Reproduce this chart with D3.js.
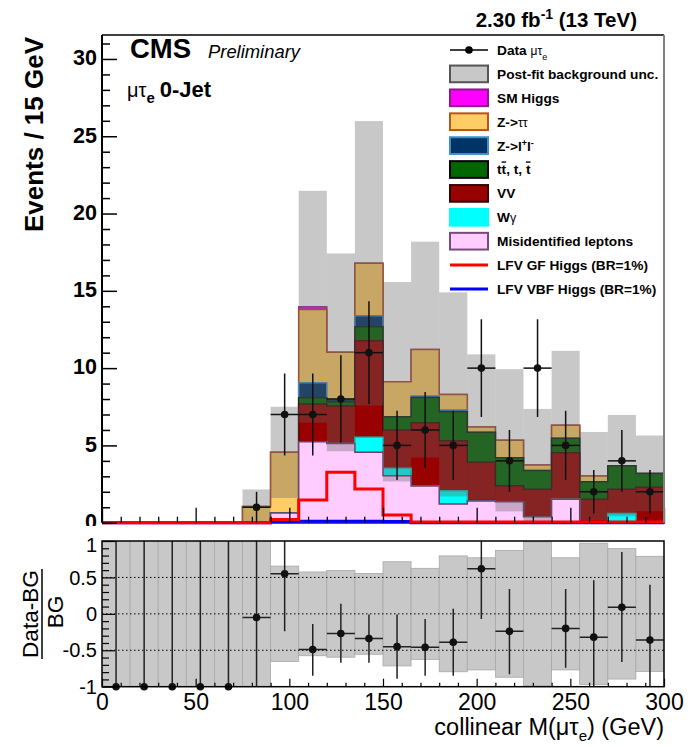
<!DOCTYPE html>
<html>
<head>
<meta charset="utf-8">
<script src="https://cdn.jsdelivr.net/npm/d3@7"></script>
<style>
  body { margin: 0; background: #fff; }
  svg { display: block; }
  text { font-family: "Liberation Sans", Arial, Helvetica, sans-serif; }
</style>
</head>
<body>
<svg id="chart" width="693" height="747"></svg>
<script>
// ---- Binning (15 GeV bins, lower edges) ----
const binLow = [0, 15, 30, 45, 60, 75, 90, 105, 120, 135, 150, 165, 180, 195, 210, 225, 240, 255, 270, 285];
const binWidth = 15;

// ---- Background expectations per bin (events) ----
const misid  = [0, 0, 0, 0, 0, 0, 0.62, 5.24, 5.13, 4.55, 3.04, 2.37, 1.21, 1.40, 1.36, 0.39, 1.51, 0, 0, 0];
const wgamma = [0, 0, 0, 0, 0, 0, 0, 0, 0, 0.97, 0.48, 0, 0.86, 0, 0, 0, 0, 0, 0.60, 0];
const vv     = [0, 0, 0, 0, 0, 0, 0, 2.44, 2.42, 6.25, 2.48, 4.10, 3.23, 2.51, 1.03, 1.77, 3.02, 1.51, 1.56, 2.29];
const ttbar  = [0, 0, 0, 0, 0, 0, 0, 0.41, 0.28, 0.91, 0.86, 1.63, 1.87, 1.94, 1.81, 1.21, 0.93, 1.14, 1.53, 0.90];
const zll    = [0, 0, 0, 0, 0, 0, 0, 0.97, 0.17, 0.71, 0, 0.10, 0.12, 0, 0, 0, 0, 0, 0, 0];
const ztt    = [0, 0, 0, 0, 0, 1.05, 3.93, 4.74, 3.02, 3.39, 2.26, 3.00, 1.01, 0.34, 1.13, 0.36, 0.84, 0.37, 0, 0];
const smh    = [0, 0, 0, 0, 0, 0, 0, 0.17, 0, 0, 0, 0, 0, 0, 0, 0, 0, 0, 0, 0];

// Post-fit background uncertainty (absolute, events)
const bkgUnc = [0, 0, 0, 0, 0, 1.10, 2.95, 7.50, 6.40, 9.20, 6.45, 6.98, 6.60, 4.70, 4.60, 3.63, 4.82, 2.85, 3.28, 2.45];

// ---- Observed data ----
const dataCounts = [0, 0, 0, 0, 0, 1, 7, 7, 8, 11, 5, 6, 5, 10, 4, 10, 5, 2, 4, 2];
const dataErr    = [0, 0, 0, 0, 0, 1.00, 2.65, 2.65, 2.83, 3.32, 2.24, 2.45, 2.24, 3.16, 2.00, 3.16, 2.24, 1.41, 2.00, 1.41];

// ---- LFV signal shapes (BR = 1%) ----
const lfvGF  = [0, 0, 0, 0, 0, 0, 0.20, 1.47, 3.26, 2.18, 0.50, 0.04, 0.04, 0.04, 0.04, 0.04, 0.04, 0.04, 0.04, 0.04];
const lfvVBF = [0, 0, 0, 0, 0, 0, 0.08, 0.10, 0.10, 0.10, 0.08, 0, 0, 0, 0, 0, 0, 0, 0, 0];

// ---- Ratio panel: (Data-BG)/BG ----
const ratioVal     = [-1, -1, -1, -1, -1, -0.05, 0.55, -0.49, -0.27, -0.34, -0.45, -0.46, -0.39, 0.62, -0.24, null, -0.20, -0.32, 0.09, -0.36];
const ratioErrUp   = [2.2, 2.2, 2.2, 2.2, 2.2, 2.0, 0.80, 0.35, 0.41, 0.33, 0.44, 0.39, 0.46, 0.69, 0.58, null, 0.54, 0.78, 0.76, 0.76];
const ratioErrDown = [0, 0, 0, 0, 0, 1.0, 0.79, 0.36, 0.40, 0.33, 0.44, 0.39, 0.46, 0.69, 0.59, null, 0.54, 0.78, 0.75, 0.76];
const ratioBand    = [2, 2, 2, 2, 2, 2, 0.655, 0.575, 0.595, 0.555, 0.715, 0.625, 0.795, 0.77, 0.87, 0.99, 0.77, 0.97, 0.895, 0.79];

// ---- Axis ticks ----
const yTicks = [0, 5, 10, 15, 20, 25, 30];
const yMinorTicks = d3.range(0, 32, 1);
const xTicks = [0, 50, 100, 150, 200, 250, 300];
const xMinorTicks = d3.range(0, 301, 10);
const ratioTicks = [-1, -0.5, 0, 0.5, 1];
const ratioTickLabels = ["-1", "-0.5", "0", "0.5", "1"];
const ratioMinorTicks = d3.range(-10, 11, 1).map(v => v / 10);

// ---- Legend labels ----
const legendLabels = ["Data", "Post-fit background unc.", "SM Higgs", "Z->", "Z->l", "VV", "W",
  "Misidentified leptons", "LFV GF Higgs (BR=1%)", "LFV VBF Higgs (BR=1%)"];

// =====================================================================
const FONT = '"Liberation Sans", Arial, Helvetica, sans-serif';
const svg = d3.select("#chart");

const x  = d3.scaleLinear().domain([0, 300]).range([102, 664]);
const y  = d3.scaleLinear().domain([0, 31.55]).range([522.7, 35]);
const yr = d3.scaleLinear().domain([-1, 1]).range([686.7, 541]);

// Stack styles, bottom to top
const layers = [
  { key: "misid",  values: misid,  fill: "#ffccff", line: "#6b3f6b" },
  { key: "wgamma", values: wgamma, fill: "#00ffff", line: "#22b8b8" },
  { key: "vv",     values: vv,     fill: "#990000", line: "#3a0808" },
  { key: "ttbar",  values: ttbar,  fill: "#006600", line: "#142414" },
  { key: "zll",    values: zll,    fill: "#003366", line: "#3d8fc6" },
  { key: "ztt",    values: ztt,    fill: "#ffcc66", line: "#a4502a" },
  { key: "smh",    values: smh,    fill: "#ff00ff", line: "#9a2a9a" }
];

const rows = binLow.map((b, i) => {
  const r = { low: b };
  layers.forEach(l => r[l.key] = l.values[i]);
  return r;
});
const stacked = d3.stack().keys(layers.map(l => l.key))(rows);
const total = rows.map((r, i) => stacked[stacked.length - 1][i][1]);

// step-line points across all bins
function stepPoints(vals) {
  const pts = binLow.map((b, i) => ({ x: b, v: vals[i] }));
  pts.push({ x: binLow[binLow.length - 1] + binWidth, v: vals[vals.length - 1] });
  return pts;
}

const main = svg.append("g");

// Cumulative histograms drawn from the top of the stack downwards
const area = d3.area().curve(d3.curveStepAfter)
  .x(d => x(d.x)).y0(y(0)).y1(d => y(d.v));
for (let k = stacked.length - 1; k >= 0; k--) {
  const cum = stacked[k].map(d => d[1]);
  main.append("path")
    .attr("d", area(stepPoints(cum)))
    .attr("fill", layers[k].fill)
    .attr("stroke", layers[k].line)
    .attr("stroke-width", 1.5)
    .attr("stroke-linejoin", "miter");
}

// Post-fit uncertainty band
main.append("g").selectAll("rect")
  .data(binLow.map((b, i) => ({ b, t: total[i], u: bkgUnc[i] })).filter(d => d.u > 0))
  .join("rect")
  .attr("x", d => x(d.b))
  .attr("width", d => x(d.b + binWidth) - x(d.b))
  .attr("y", d => y(d.t + d.u))
  .attr("height", d => y(Math.max(0, d.t - d.u)) - y(d.t + d.u))
  .attr("fill", "rgb(100,100,100)")
  .attr("fill-opacity", 0.355);

// LFV signal lines
const stepLine = d3.line().curve(d3.curveStepAfter).x(d => x(d.x)).y(d => y(d.v));
main.append("path").attr("d", stepLine(stepPoints(lfvVBF)))
  .attr("fill", "none").attr("stroke", "#0000ff").attr("stroke-width", 3);
main.append("path").attr("d", stepLine(stepPoints(lfvGF)))
  .attr("fill", "none").attr("stroke", "#ff0000").attr("stroke-width", 3);

// Data points
const dataPts = binLow.map((b, i) => ({ c: b + binWidth / 2, b, n: dataCounts[i], e: dataErr[i] }))
  .filter(d => d.n > 0);
const dg = main.append("g").attr("stroke", "#111").attr("stroke-width", 1.5);
dg.selectAll("line.v").data(dataPts).join("line").attr("class", "v")
  .attr("x1", d => x(d.c)).attr("x2", d => x(d.c))
  .attr("y1", d => y(d.n + d.e)).attr("y2", d => y(Math.max(0, d.n - d.e)));
dg.selectAll("line.h").data(dataPts).join("line").attr("class", "h")
  .attr("x1", d => x(d.b)).attr("x2", d => x(d.b + binWidth))
  .attr("y1", d => y(d.n)).attr("y2", d => y(d.n));
main.append("g").selectAll("circle").data(dataPts).join("circle")
  .attr("cx", d => x(d.c)).attr("cy", d => y(d.n)).attr("r", 3.8).attr("fill", "#111");

// Main axes: inward ticks
const yMinor = main.append("g").attr("transform", `translate(${x(0)},0)`)
  .call(d3.axisLeft(y).tickValues(yMinorTicks.filter(v => v % 5 !== 0)).tickSizeInner(-8).tickSizeOuter(0).tickFormat(""));
const yMajor = main.append("g").attr("transform", `translate(${x(0)},0)`)
  .call(d3.axisLeft(y).tickValues(yTicks).tickSizeInner(-15).tickSizeOuter(0).tickPadding(5).tickFormat(d3.format("d")));
[yMinor, yMajor].forEach(g => {
  g.select(".domain").remove();
  g.selectAll("line").attr("stroke", "#000").attr("stroke-width", 1.5);
});
yMajor.selectAll("text").attr("font-family", FONT).attr("font-size", 21.5).attr("font-weight", "bold")
  .attr("fill", "#000").attr("dy", "0.27em");

const xMinorMain = main.append("g").attr("transform", `translate(0,${y(0)})`)
  .call(d3.axisBottom(x).tickValues(xMinorTicks.filter(v => v % 50 !== 0)).tickSizeInner(-6).tickSizeOuter(0).tickFormat(""));
const xMajorMain = main.append("g").attr("transform", `translate(0,${y(0)})`)
  .call(d3.axisBottom(x).tickValues(xTicks).tickSizeInner(-15).tickSizeOuter(0).tickFormat(""));
[xMinorMain, xMajorMain].forEach(g => {
  g.select(".domain").remove();
  g.selectAll("line").attr("stroke", "#000").attr("stroke-width", 1.3);
});

// Frame of the upper pad
main.append("line").attr("x1", x(0)).attr("x2", x(0)).attr("y1", y.range()[1]).attr("y2", y(0))
  .attr("stroke", "#000").attr("stroke-width", 2);
main.append("line").attr("x1", x(0)).attr("x2", x(300)).attr("y1", y.range()[1]).attr("y2", y.range()[1])
  .attr("stroke", "#000").attr("stroke-width", 1.5);
main.append("line").attr("x1", x(300)).attr("x2", x(300)).attr("y1", y.range()[1]).attr("y2", y(0))
  .attr("stroke", "#808080").attr("stroke-width", 2);

// Axis title
svg.append("text")
  .attr("transform", "translate(43,37) rotate(-90)")
  .attr("text-anchor", "end")
  .attr("font-size", 26).attr("font-weight", "bold")
  .text("Events / 15 GeV");

// CMS labels
svg.append("text").attr("x", 130).attr("y", 58).attr("font-size", 27.5).attr("font-weight", "bold").text("CMS");
svg.append("text").attr("x", 208).attr("y", 58).attr("font-size", 18.4).attr("font-style", "italic").text("Preliminary");
const chan = svg.append("text").attr("x", 127).attr("y", 97);
chan.append("tspan").attr("font-size", 20).text("μτ");
chan.append("tspan").attr("font-size", 15).attr("font-weight", "bold").attr("dy", 6).text("e");
chan.append("tspan").attr("font-size", 22).attr("font-weight", "bold").attr("dy", -6).attr("dx", 5).text("0-Jet");

// Luminosity label
const lumi = svg.append("text").attr("x", 637).attr("y", 27).attr("text-anchor", "end")
  .attr("font-size", 20.5).attr("font-weight", "bold");
lumi.append("tspan").text("2.30 fb");
lumi.append("tspan").attr("font-size", 14).attr("dy", -8).text("-1");
lumi.append("tspan").attr("dy", 8).text(" (13 TeV)");

// ---- Legend ----
const leg = svg.append("g");
const legY0 = 50, legStep = 23.9, boxX = 450, boxW = 38, boxH = 16.7, textX = 497;
const legendBoxes = [
  null,
  { fill: "#c8c8c8", stroke: "#555555" },
  { fill: "#ff00ff", stroke: "#8b1a8b" },
  { fill: "#ffcc66", stroke: "#b4561e" },
  { fill: "#003366", stroke: "#3d8fc6" },
  { fill: "#006600", stroke: "#000000" },
  { fill: "#990000", stroke: "#3a0000" },
  { fill: "#00ffff", stroke: "#00ffff" },
  { fill: "#ffccff", stroke: "#7a4a7a" },
  { line: "#ff0000" },
  { line: "#0000ff" }
];
legendBoxes.forEach((s, i) => {
  const cy = legY0 + i * legStep;
  if (i === 0) {
    leg.append("line").attr("x1", boxX).attr("x2", boxX + boxW).attr("y1", cy).attr("y2", cy)
      .attr("stroke", "#000").attr("stroke-width", 1.5);
    leg.append("circle").attr("cx", boxX + boxW / 2).attr("cy", cy).attr("r", 3.8).attr("fill", "#000");
  } else if (s.line) {
    leg.append("line").attr("x1", boxX).attr("x2", boxX + boxW).attr("y1", cy).attr("y2", cy)
      .attr("stroke", s.line).attr("stroke-width", 3);
  } else {
    leg.append("rect").attr("x", boxX).attr("y", cy - boxH / 2).attr("width", boxW).attr("height", boxH)
      .attr("fill", s.fill).attr("stroke", s.stroke).attr("stroke-width", 2);
  }
});
function legText(i) {
  return leg.append("text").attr("x", textX).attr("y", legY0 + i * legStep + 4.9)
    .attr("font-size", 13.7).attr("font-weight", "bold");
}
{ const t = legText(0); t.append("tspan").text(legendLabels[0] + " ");
  t.append("tspan").attr("font-weight", "normal").attr("font-size", 12).text("μτ");
  t.append("tspan").attr("font-weight", "normal").attr("font-size", 9).attr("dy", 5).text("e"); }
legText(1).text(legendLabels[1]);
legText(2).text(legendLabels[2]);
{ const t = legText(3); t.append("tspan").text(legendLabels[3]);
  t.append("tspan").attr("font-weight", "normal").attr("font-size", 12.5).text("ττ"); }
{ const t = legText(4); t.append("tspan").text(legendLabels[4]);
  t.append("tspan").attr("font-size", 9).attr("dy", -5).text("+");
  t.append("tspan").attr("dy", 5).text("l");
  t.append("tspan").attr("font-size", 9).attr("dy", -5).text("-"); }
{ const t = legText(5); t.append("tspan").text("t");
  t.append("tspan").style("text-decoration", "overline").text("t");
  t.append("tspan").text(", t, ");
  t.append("tspan").style("text-decoration", "overline").text("t"); }
legText(6).text(legendLabels[5]);
{ const t = legText(7); t.append("tspan").text(legendLabels[6]);
  t.append("tspan").attr("font-weight", "normal").attr("font-size", 12.5).text("γ"); }
legText(8).text(legendLabels[7]);
legText(9).text(legendLabels[8]);
legText(10).text(legendLabels[9]);

// =====================================================================
// Lower pad: (Data-BG)/BG
svg.append("rect").attr("x", 0).attr("y", 526).attr("width", 693).attr("height", 221).attr("fill", "#fff");
const rp = svg.append("g");
svg.append("defs").append("clipPath").attr("id", "ratioClip")
  .append("rect").attr("x", x(0)).attr("y", yr(1)).attr("width", x(300) - x(0)).attr("height", yr(-1) - yr(1));
const rin = rp.append("g").attr("clip-path", "url(#ratioClip)");

rin.selectAll("rect.band")
  .data(binLow.map((b, i) => ({ b, u: ratioBand[i] })))
  .join("rect").attr("class", "band")
  .attr("x", d => x(d.b))
  .attr("width", d => x(d.b + binWidth) - x(d.b))
  .attr("y", d => yr(Math.min(1.05, d.u)))
  .attr("height", d => yr(Math.max(-1.05, -d.u)) - yr(Math.min(1.05, d.u)))
  .attr("fill", "#c8c8c8").attr("stroke", "#a8a8a8").attr("stroke-width", 0.8);

// dotted reference lines
[0.5, 0, -0.5].forEach(v => {
  rin.append("line").attr("x1", x(0)).attr("x2", x(300)).attr("y1", yr(v)).attr("y2", yr(v))
    .attr("stroke", "#000").attr("stroke-width", 1).attr("stroke-dasharray", "1.5,2.5");
});

const rPts = binLow.map((b, i) => ({ b, c: b + binWidth / 2, v: ratioVal[i], up: ratioErrUp[i], dn: ratioErrDown[i] }))
  .filter(d => d.v !== null);
const rg = rin.append("g").attr("stroke", "#222").attr("stroke-width", 1.5);
rg.selectAll("line.v").data(rPts).join("line").attr("class", "v")
  .attr("x1", d => x(d.c)).attr("x2", d => x(d.c))
  .attr("y1", d => yr(d.v + d.up)).attr("y2", d => yr(d.v - d.dn));
rg.selectAll("line.h").data(rPts.filter(d => d.v > -1)).join("line").attr("class", "h")
  .attr("x1", d => x(d.b)).attr("x2", d => x(d.b + binWidth))
  .attr("y1", d => yr(d.v)).attr("y2", d => yr(d.v));
rp.append("g").selectAll("circle").data(rPts).join("circle")
  .attr("cx", d => x(d.c)).attr("cy", d => yr(d.v)).attr("r", 3.8).attr("fill", "#111");

// ratio axes
const ryMinor = rp.append("g").attr("transform", `translate(${x(0)},0)`)
  .call(d3.axisLeft(yr).tickValues(ratioMinorTicks.filter(v => Math.abs(v * 2 - Math.round(v * 2)) > 1e-6))
    .tickSizeInner(-7).tickSizeOuter(0).tickFormat(""));
const ryMajor = rp.append("g").attr("transform", `translate(${x(0)},0)`)
  .call(d3.axisLeft(yr).tickValues(ratioTicks).tickSizeInner(-13).tickSizeOuter(0).tickPadding(5)
    .tickFormat((d, i) => ratioTickLabels[i]));
[ryMinor, ryMajor].forEach(g => {
  g.select(".domain").remove();
  g.selectAll("line").attr("stroke", "#000").attr("stroke-width", 1.2);
});
ryMajor.selectAll("text").attr("font-family", FONT).attr("font-size", 20).attr("fill", "#000")
  .attr("dy", d => d === 1 ? "0.52em" : "0.33em");

const rxMinor = rp.append("g").attr("transform", `translate(0,${yr(-1)})`)
  .call(d3.axisBottom(x).tickValues(xMinorTicks.filter(v => v % 50 !== 0)).tickSizeInner(-4).tickSizeOuter(0).tickFormat(""));
const rxMajor = rp.append("g").attr("transform", `translate(0,${yr(-1)})`)
  .call(d3.axisBottom(x).tickValues(xTicks).tickSizeInner(-8).tickSizeOuter(0).tickPadding(8).tickFormat(d3.format("d")));
[rxMinor, rxMajor].forEach(g => {
  g.select(".domain").remove();
  g.selectAll("line").attr("stroke", "#000").attr("stroke-width", 1.2);
});
rxMajor.selectAll("text").attr("font-family", FONT).attr("font-size", 23).attr("fill", "#000")
  .attr("y", 23).attr("dy", 0);

rp.append("rect").attr("x", x(0)).attr("y", yr(1)).attr("width", x(300) - x(0)).attr("height", yr(-1) - yr(1))
  .attr("fill", "none").attr("stroke", "#000").attr("stroke-width", 1.5);

// ratio axis title (fraction)
svg.append("text").attr("transform", "translate(37.5,614) rotate(-90)").attr("text-anchor", "middle")
  .attr("font-size", 22.6).text("Data-BG");
svg.append("line").attr("x1", 42).attr("x2", 42).attr("y1", 569).attr("y2", 659)
  .attr("stroke", "#000").attr("stroke-width", 1.5);
svg.append("text").attr("transform", "translate(62.5,612) rotate(-90)").attr("text-anchor", "middle")
  .attr("font-size", 22.6).text("BG");

// x-axis title
const xt = svg.append("text").attr("x", 664).attr("y", 735).attr("text-anchor", "end").attr("font-size", 23.5);
xt.append("tspan").text("collinear M(μτ");
xt.append("tspan").attr("font-size", 15).attr("dy", 6).text("e");
xt.append("tspan").attr("dy", -6).text(") (GeV)");
</script>
</body>
</html>
